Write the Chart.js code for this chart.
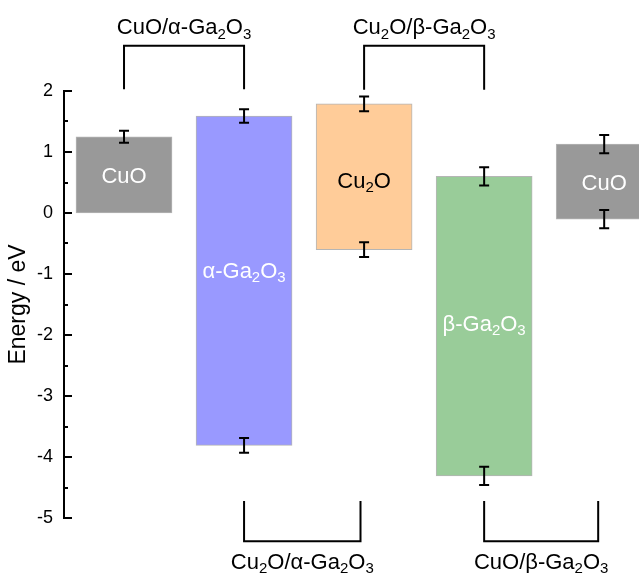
<!DOCTYPE html>
<html>
<head>
<meta charset="utf-8">
<script src="https://cdn.jsdelivr.net/npm/chart.js@4"></script>
<style>
body { margin: 0; background: #fff; overflow: hidden; }
</style>
</head>
<body>
<canvas id="chart" width="639" height="573"></canvas>
<script>
// band edges (eV) of each material, left to right
const positions = [1, 2, 3, 4, 5];
const barLabels = ["CuO", "α-Ga_2O_3", "Cu_2O", "β-Ga_2O_3", "CuO"];
const bandTop = [1.25, 1.59, 1.79, 0.6, 1.13];
const bandBottom = [0, -3.81, -0.6, -4.31, -0.1];
const errTop = [0.1, 0.11, 0.12, 0.15, 0.15];
const errBottom = [0, 0.12, 0.12, 0.15, 0.15];
const labelLevels = [0.62, -0.93, 0.54, -1.8, 0.5];
const barColors = ["#999999", "#9999ff", "#ffcc99", "#99cc99", "#999999"];
const labelColors = ["#ffffff", "#ffffff", "#000000", "#ffffff", "#ffffff"];

// heterojunction brackets
const pairLabels = ["CuO/α-Ga_2O_3", "Cu_2O/β-Ga_2O_3", "Cu_2O/α-Ga_2O_3", "CuO/β-Ga_2O_3"];
const pairFrom = [1, 3, 2, 4];
const pairTo = [2, 4, 2.97, 4.95];
const pairArmEnd = [2.03, 2.02, -4.72, -4.72];
const pairBar = [2.74, 2.74, -5.38, -5.38];
const pairTextLevel = [3.06, 3.06, -5.7, -5.7];

const FONT = '"Liberation Sans", Arial, sans-serif';

function parseRich(str) {
	const parts = [];
	let buf = "";
	for (let i = 0; i < str.length; i++) {
		if (str[i] === "_") {
			if (buf) parts.push([buf, false]);
			buf = "";
			parts.push([str[i + 1], true]);
			i++;
		} else {
			buf += str[i];
		}
	}
	if (buf) parts.push([buf, false]);
	return parts;
}

function drawRich(ctx, str, x, y, size, color) {
	const parts = parseRich(str);
	const subSize = Math.round(size * 0.68);
	let w = 0;
	for (const [t, sub] of parts) {
		ctx.font = `${sub ? subSize : size}px ${FONT}`;
		w += ctx.measureText(t).width;
	}
	let cx = x - w / 2;
	const base = y + size * 0.36;
	ctx.fillStyle = color;
	ctx.textAlign = "left";
	ctx.textBaseline = "alphabetic";
	for (const [t, sub] of parts) {
		ctx.font = `${sub ? subSize : size}px ${FONT}`;
		ctx.fillText(t, cx, sub ? base + size * 0.2 : base);
		cx += ctx.measureText(t).width;
	}
}

const inwardTicks = {
	id: "inwardTicks",
	afterDraw(chart) {
		const ctx = chart.ctx;
		const y = chart.scales.y;
		ctx.save();
		ctx.strokeStyle = "#000";
		ctx.lineWidth = 2;
		for (const t of y.ticks) {
			const py = Math.round(y.getPixelForValue(t.value));
			const len = Number.isInteger(t.value) ? 8 : 4;
			ctx.beginPath();
			ctx.moveTo(y.right, py);
			ctx.lineTo(y.right + len, py);
			ctx.stroke();
		}
		ctx.restore();
	}
};

const annotations = {
	id: "annotations",
	afterDatasetsDraw(chart) {
		const ctx = chart.ctx;
		const xs = chart.scales.x;
		const ys = chart.scales.y;
		ctx.save();
		ctx.strokeStyle = "#000";
		ctx.lineWidth = 2;
		const cap = 5;
		function errBar(px, v, e) {
			const a = ys.getPixelForValue(v + e);
			const b = ys.getPixelForValue(v - e);
			ctx.beginPath();
			ctx.moveTo(px, a); ctx.lineTo(px, b);
			ctx.moveTo(px - cap, a); ctx.lineTo(px + cap, a);
			ctx.moveTo(px - cap, b); ctx.lineTo(px + cap, b);
			ctx.stroke();
		}
		positions.forEach((p, i) => {
			const px = xs.getPixelForValue(p);
			if (errTop[i] > 0) errBar(px, bandTop[i], errTop[i]);
			if (errBottom[i] > 0) errBar(px, bandBottom[i], errBottom[i]);
			drawRich(ctx, barLabels[i], px, ys.getPixelForValue(labelLevels[i]), 22, labelColors[i]);
		});
		ctx.restore();
	},
	afterDraw(chart) {
		const ctx = chart.ctx;
		const xs = chart.scales.x;
		const ys = chart.scales.y;
		ctx.save();
		ctx.strokeStyle = "#000";
		ctx.lineWidth = 2;
		pairLabels.forEach((lab, i) => {
			const x1 = xs.getPixelForValue(pairFrom[i]);
			const x2 = xs.getPixelForValue(pairTo[i]);
			const yArm = ys.getPixelForValue(pairArmEnd[i]);
			const yBar = ys.getPixelForValue(pairBar[i]);
			ctx.beginPath();
			ctx.moveTo(x1, yArm);
			ctx.lineTo(x1, yBar);
			ctx.lineTo(x2, yBar);
			ctx.lineTo(x2, yArm);
			ctx.stroke();
			drawRich(ctx, lab, (x1 + x2) / 2, ys.getPixelForValue(pairTextLevel[i]), 22, "#000");
		});
		ctx.restore();
	}
};

new Chart(document.getElementById("chart"), {
	type: "bar",
	data: {
		datasets: [{
			data: positions.map((p, i) => ({ x: p, y: [bandBottom[i], bandTop[i]] })),
			backgroundColor: barColors,
			borderColor: "rgba(120,120,120,0.55)",
			borderWidth: 1,
			borderSkipped: false,
			barThickness: 96,
		}],
	},
	options: {
		responsive: false,
		animation: false,
		layout: { padding: { top: 91, bottom: 55, left: 0, right: 0 } },
		plugins: { legend: { display: false }, tooltip: { enabled: false } },
		scales: {
			x: { type: "linear", display: false, offset: false, min: 0.5, max: 5.29 },
			y: {
				min: -5,
				max: 2,
				afterFit(scale) { scale.width = 64; },
				border: { display: true, color: "#000", width: 2 },
				grid: { display: false, drawTicks: false },
				ticks: {
					stepSize: 0.5,
					padding: 11,
					color: "#000",
					font: { family: FONT, size: 18 },
					callback: v => Number.isInteger(v) ? String(v) : "",
				},
				title: {
					display: true,
					text: "Energy / eV",
					color: "#000",
					font: { family: FONT, size: 23 },
					padding: { top: 5, bottom: 0 },
				},
			},
		},
	},
	plugins: [inwardTicks, annotations],
});
</script>
</body>
</html>
